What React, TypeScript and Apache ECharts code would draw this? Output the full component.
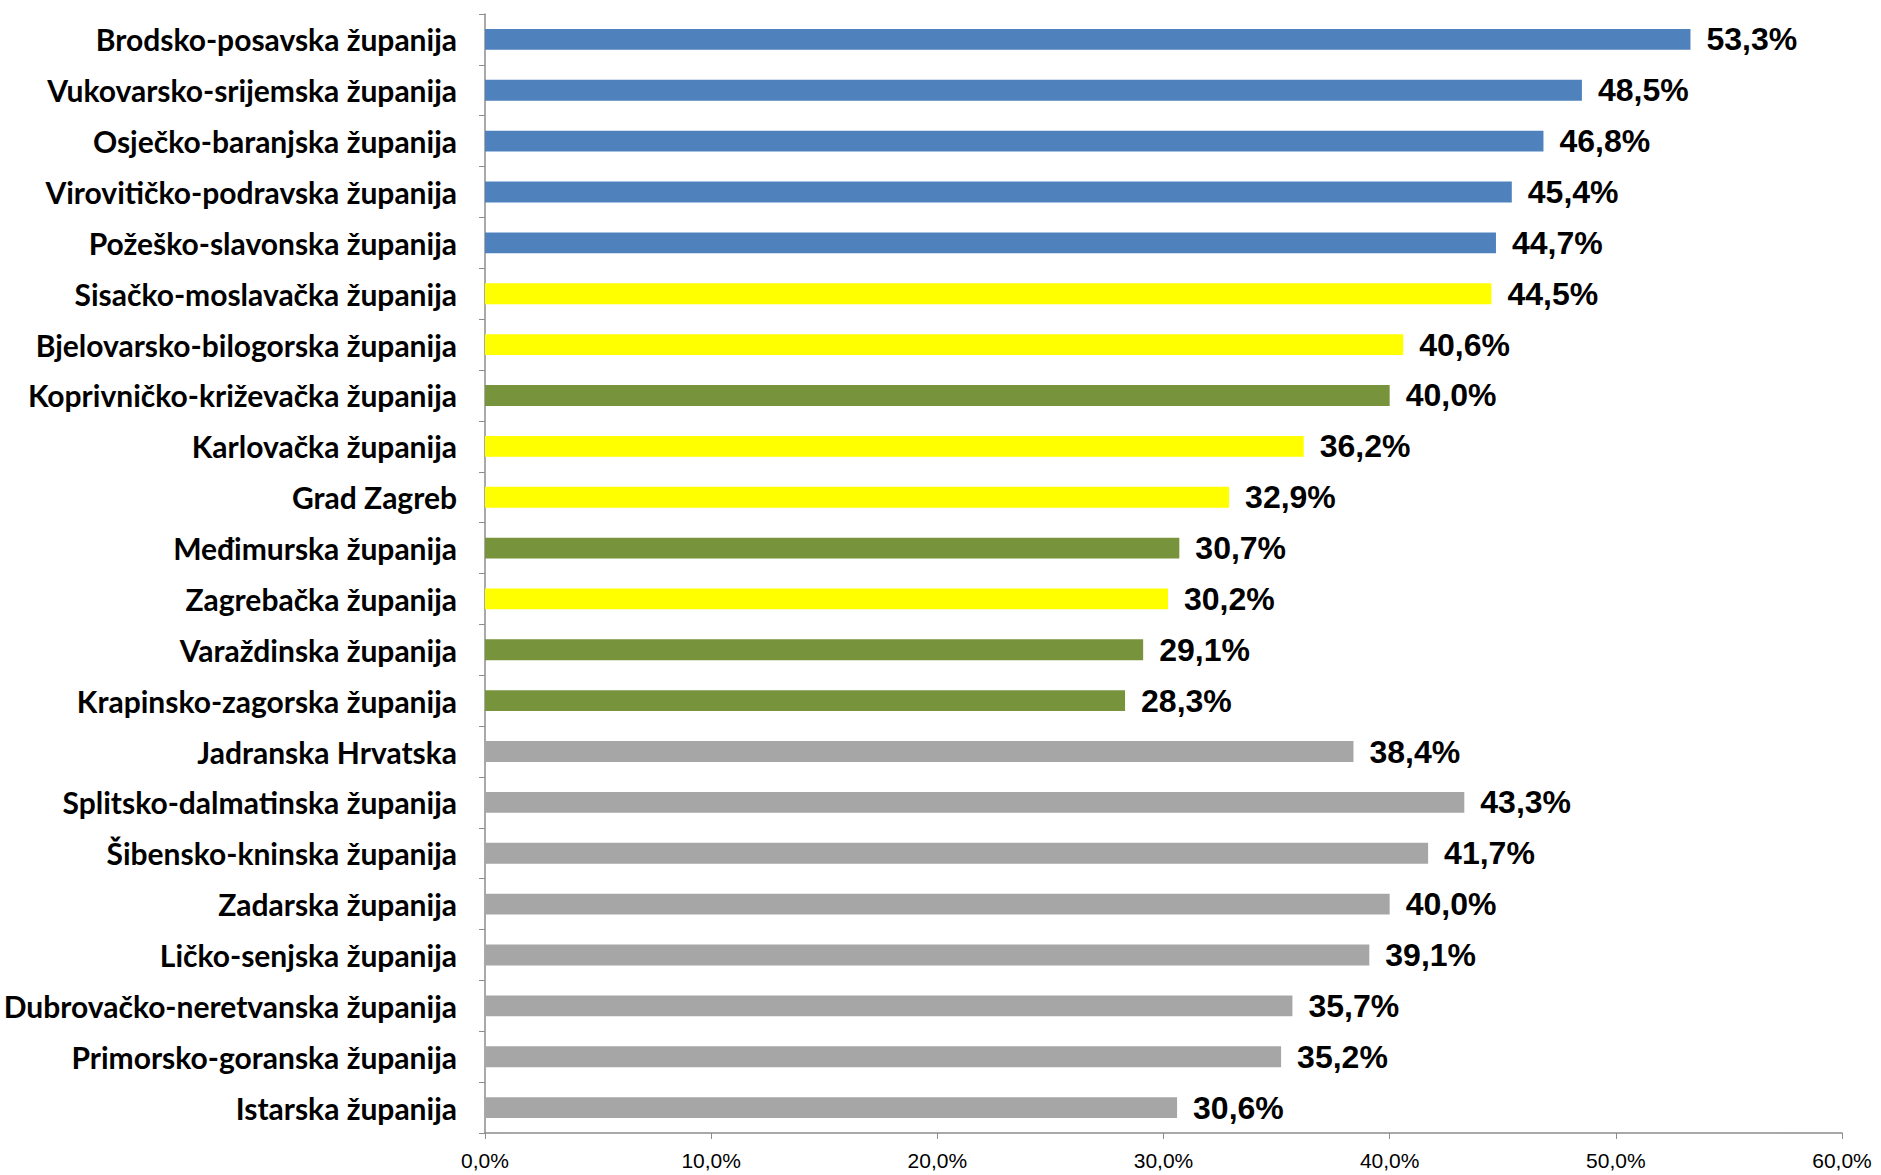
import React, { useEffect, useRef } from "react";
import * as echarts from "echarts";

const categories = [
  "Brodsko-posavska županija",
  "Vukovarsko-srijemska županija",
  "Osječko-baranjska županija",
  "Virovitičko-podravska županija",
  "Požeško-slavonska županija",
  "Sisačko-moslavačka županija",
  "Bjelovarsko-bilogorska županija",
  "Koprivničko-križevačka županija",
  "Karlovačka županija",
  "Grad Zagreb",
  "Međimurska županija",
  "Zagrebačka županija",
  "Varaždinska županija",
  "Krapinsko-zagorska županija",
  "Jadranska Hrvatska",
  "Splitsko-dalmatinska županija",
  "Šibensko-kninska županija",
  "Zadarska županija",
  "Ličko-senjska županija",
  "Dubrovačko-neretvanska županija",
  "Primorsko-goranska županija",
  "Istarska županija",
];

const values = [
  53.3, 48.5, 46.8, 45.4, 44.7, 44.5, 40.6, 40.0, 36.2, 32.9, 30.7, 30.2, 29.1,
  28.3, 38.4, 43.3, 41.7, 40.0, 39.1, 35.7, 35.2, 30.6,
];

const groups = [
  "blue", "blue", "blue", "blue", "blue",
  "yellow", "yellow", "green", "yellow", "yellow", "green", "yellow", "green", "green",
  "gray", "gray", "gray", "gray", "gray", "gray", "gray", "gray",
];

const groupColors: Record<string, string> = {
  blue: "#4F81BD",
  yellow: "#FFFF00",
  green: "#77933C",
  gray: "#A6A6A6",
};

const fmt = (v: number) => v.toFixed(1).replace(".", ",") + "%";

export default function App() {
  const ref = useRef<HTMLDivElement>(null);
  useEffect(() => {
    if (!ref.current) return;
    const chart = echarts.init(ref.current, undefined, { renderer: "svg" });
    chart.setOption({
      animation: false,
      backgroundColor: "#ffffff",
      grid: { left: 485, right: 39, top: 14, bottom: 42, containLabel: false },
      xAxis: {
        type: "value",
        min: 0,
        max: 60,
        interval: 10,
        splitLine: { show: false },
        axisLine: { show: true, lineStyle: { color: "#8C8C8C", width: 1.5 } },
        axisTick: { show: true, length: 6, lineStyle: { color: "#8C8C8C" } },
        axisLabel: {
          formatter: (v: number) => fmt(v),
          fontFamily: "Liberation Sans",
          fontSize: 21,
          color: "#000",
          margin: 17,
        },
      },
      yAxis: {
        type: "category",
        data: categories,
        inverse: true,
        axisLine: { show: true, lineStyle: { color: "#8C8C8C", width: 1.5 } },
        axisTick: { show: true, length: 6, lineStyle: { color: "#8C8C8C" } },
        axisLabel: {
          fontFamily: "Lato",
          fontWeight: "bold",
          fontSize: 30,
          color: "#000",
          margin: 28,
        },
      },
      series: [
        {
          type: "bar",
          barCategoryGap: "59%",
          data: values.map((v, i) => ({
            value: v,
            itemStyle: { color: groupColors[groups[i]] },
          })),
          label: {
            show: true,
            position: "right",
            distance: 16,
            formatter: (p: any) => fmt(p.value),
            fontFamily: "Liberation Sans",
            fontWeight: "bold",
            fontSize: 32,
            color: "#000",
          },
        },
      ],
    });
    return () => chart.dispose();
  }, []);
  return (
    <div
      ref={ref}
      style={{ position: "fixed", left: 0, top: 0, width: 1881, height: 1175 }}
    />
  );
}
